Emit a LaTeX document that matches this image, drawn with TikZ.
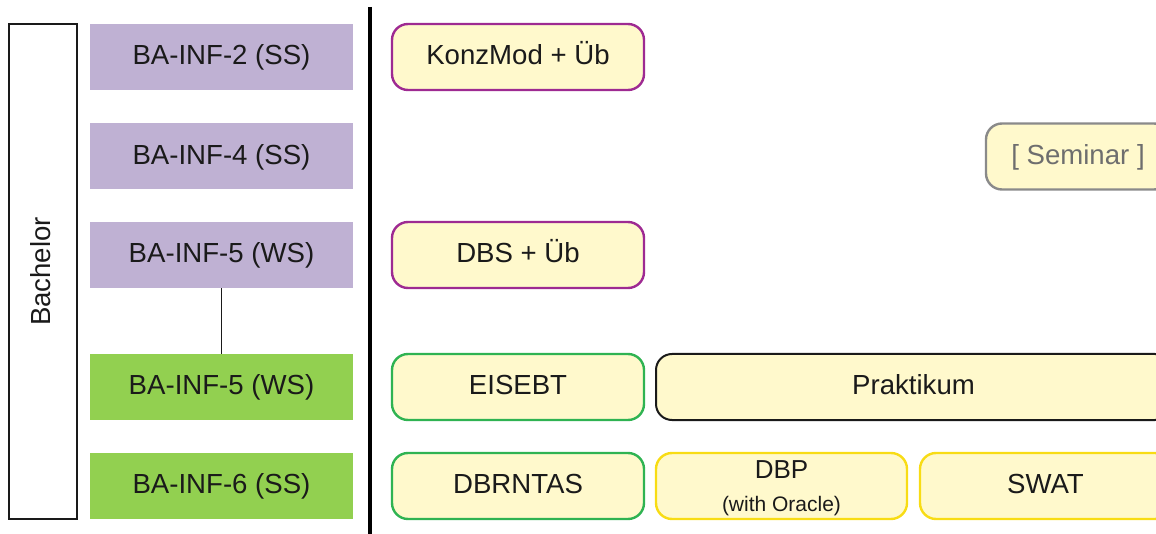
\documentclass[tikz,border=0pt]{standalone}
\usepackage{fontspec}
\setmainfont{Liberation Sans}
\definecolor{lav}{HTML}{BFB1D3}
\definecolor{leaf}{HTML}{92D050}
\definecolor{cream}{HTML}{FFF9CC}
\definecolor{plum}{HTML}{9E2A92}
\definecolor{mint}{HTML}{2FB352}
\definecolor{sun}{HTML}{F8DC14}
\definecolor{ash}{HTML}{8A8A8A}
\definecolor{ink}{HTML}{1A1A1A}
\tikzset{
  big/.style={font=\fontsize{27.6}{32}\selectfont, text=ink, text height=21.8pt, text depth=6pt},
  module/.style={big, rectangle, inner sep=0pt, minimum width=263pt, minimum height=66pt},
  sem/.style={module, fill=lav},
  semg/.style={module, fill=leaf},
  course/.style={big, rectangle, rounded corners=16pt, fill=cream, line width=2.4pt,
                 inner sep=0pt, minimum height=66pt},
  cpur/.style={course, draw=plum, minimum width=252pt},
  cgrn/.style={course, draw=mint, minimum width=252pt},
  cyel/.style={course, draw=sun},
  cblk/.style={course, draw=ink, line width=2pt},
  cgry/.style={course, draw=ash, text=ash!80!black},
}
\begin{document}
\begin{tikzpicture}[x=1pt,y=-1pt]
\useasboundingbox (0,0) rectangle (1156,534);
\clip (0,0) rectangle (1156,534);

% degree column
\node[big, draw=ink, line width=2.6pt, rotate=90, inner sep=0pt,
      minimum width=495pt, minimum height=68pt] (ba) at (43,271.5) {Bachelor};

% module column
\node[sem]  (m1) at (221.5,57)   {BA-INF-2 (SS)};
\node[sem]  (m2) at (221.5,156.5) {BA-INF-4 (SS)};
\node[sem]  (m3) at (221.5,255)  {BA-INF-5 (WS)};
\node[semg] (m4) at (221.5,387)  {BA-INF-5 (WS)};
\node[semg] (m5) at (221.5,486)  {BA-INF-6 (SS)};
\draw[ink, line width=1.2pt] (m3.south) -- (m4.north);

% separator
\draw[black, line width=3.2pt] (370,7) -- (370,534);

% courses
\node[cpur] (konz) at (518,57)  {KonzMod + Üb};
\node[cpur] (dbs)  at (518,255) {DBS + Üb};
\node[cgrn] (eis)  at (518,387) {EISEBT};
\node[cgrn] (dbr)  at (518,486) {DBRNTAS};
\node[cgry, minimum width=184pt] (sem) at (1078,156.5) {[ Seminar ]};
\node[cblk, minimum width=515pt] (prak) at (913.5,387) {Praktikum};
\node[cyel, minimum width=251pt] (dbp) at (781.5,486) {};
\node[font=\fontsize{26}{30}\selectfont, text=ink, anchor=base, inner sep=0pt] at (781.5,478) {DBP};
\node[font=\fontsize{21}{25}\selectfont, text=ink, anchor=base, inner sep=0pt] at (781.5,511) {(with Oracle)};
\node[cyel, minimum width=251pt] (swat) at (1045.5,486) {SWAT};
\end{tikzpicture}
\end{document}
